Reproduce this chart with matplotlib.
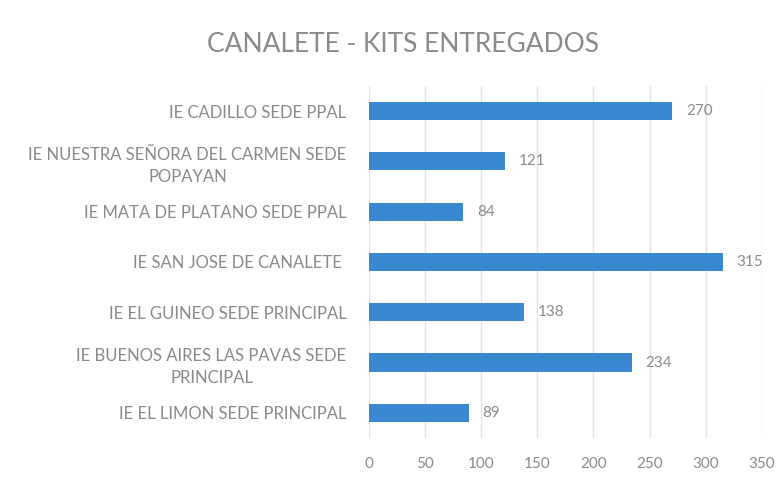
import matplotlib
matplotlib.use("Agg")
import matplotlib.pyplot as plt

# categories top to bottom as in the chart
categories = [
    "IE CADILLO SEDE PPAL",
    "IE NUESTRA SEÑORA DEL CARMEN SEDE\nPOPAYAN",
    "IE MATA DE PLATANO SEDE PPAL",
    "IE SAN JOSE DE CANALETE ",
    "IE EL GUINEO SEDE PRINCIPAL",
    "IE BUENOS AIRES LAS PAVAS SEDE\nPRINCIPAL",
    "IE EL LIMON SEDE PRINCIPAL",
]
kits = [270, 121, 84, 315, 138, 234, 89]
x_ticks = [0, 50, 100, 150, 200, 250, 300, 350]

plt.rcParams["font.family"] = ["Lato", "DejaVu Sans"]
text_gray = "#8a8a8a"
bar_blue = "#3B88D2"

fig = plt.figure(figsize=(7.83, 4.91), dpi=100)
ax = fig.add_axes([0.471, 0.108, 0.502, 0.717])

y = list(range(len(categories)))
bars = ax.barh(y, kits, height=0.36, color=bar_blue, zorder=3)
ax.set_ylim(len(categories) - 0.5, -0.5)
ax.set_xlim(0, 350)
ax.set_xticks(x_ticks)
ax.set_xticklabels([str(t) for t in x_ticks], color=text_gray, fontsize=11)
ax.set_yticks(y)
ax.set_yticklabels(categories, color=text_gray, fontsize=12,
                   multialignment="center", linespacing=1.45)
ax.tick_params(axis="both", length=0)
ax.tick_params(axis="x", pad=14)
ax.tick_params(axis="y", pad=16)

ax.grid(axis="x", color="#e4e4e4", linewidth=1, zorder=0)
for s in ax.spines.values():
    s.set_visible(False)

for rect, v in zip(bars, kits):
    ax.annotate(str(v), (rect.get_width(), rect.get_y() + rect.get_height() / 2),
                xytext=(10, 0), textcoords="offset points", va="center", ha="left",
                color=text_gray, fontsize=11)

fig.text(0.515, 0.91, "CANALETE - KITS ENTREGADOS", ha="center", va="center",
         color=text_gray, fontsize=19)

fig.savefig("out.png", dpi=100, facecolor="white")
